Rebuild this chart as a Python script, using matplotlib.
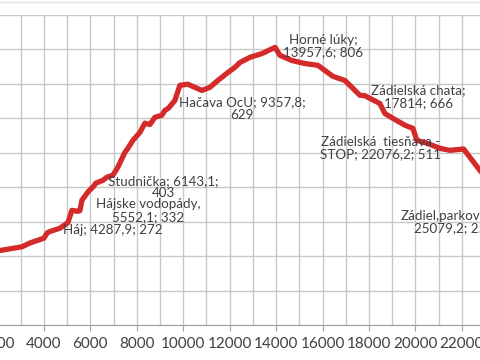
import matplotlib
matplotlib.use("Agg")
import matplotlib.pyplot as plt
from matplotlib.ticker import MultipleLocator
from matplotlib.lines import Line2D

plt.rcParams['font.family'] = ['Lato', 'DejaVu Sans']

# elevation profile: distance (m), elevation (m)
dist = [2000, 3053, 3397, 4000, 4150, 4287.9, 4689, 5034, 5206, 5464, 5552.1,
        5637, 5895, 6143.1, 6239, 6541, 6713, 6972, 7187, 7488, 7618, 7833,
        8134, 8350, 8565, 8780, 9082, 9211, 9357.8, 9642, 9857, 10202, 10503,
        10805, 11149, 11494, 11924, 12226, 12441, 12872, 13388, 13957.6, 14164,
        14680, 15240, 15800, 16102, 16446, 16963, 17264, 17609, 17814, 18470,
        18686, 19030, 19547, 19892, 20064, 20494, 21054, 21485, 22076.2, 22347,
        22777, 25079.2]
elev = [215, 227, 238, 252, 268, 272, 281, 297, 333, 330, 332,
        362, 386, 403, 412, 420, 429, 435, 458, 501, 513, 536,
        559, 586, 582, 603, 609, 623, 629, 652, 696, 699, 690,
        681, 690, 710, 733, 748, 762, 777, 788, 806, 783,
        768, 759, 754, 739, 722, 710, 690, 667, 666, 643,
        614, 600, 580, 571, 536, 528, 513, 507, 511, 487,
        449, 250]

# named stops on the route
stop_dist = [4287.9, 5552.1, 6143.1, 9357.8, 13957.6, 17814, 22076.2, 25079.2]
stop_elev = [272, 332, 403, 629, 806, 666, 511, 250]
stop_text = ["Háj; 4287,9; 272",
             "Hájske vodopády,\n5552,1; 332",
             "Studnička; 6143,1;\n403",
             "Hačava OcU; 9357,8;\n629",
             "Horné lúky;\n13957,6; 806",
             "Zádielská chata;\n17814; 666",
             "Zádielská  tiesňava -\nSTOP; 22076,2; 511",
             "Zádiel,parkovisko;\n25079,2; 250"]
# label offsets in pixels from the point
off = [(62, 1), (68, 0), (70, -1), (74, 0), (48, 1), (54, -1), (-83, 1), (-79, 17)]

fig = plt.figure(figsize=(4.8, 3.6), dpi=100)
ax = fig.add_axes([-49 / 480, 35 / 360, 603.7 / 480, 310 / 360])

ax.plot(dist, elev, color="#d42a2a", lw=3.8, solid_joinstyle="round",
        solid_capstyle="round", zorder=3)

for x, y, t, o in zip(stop_dist, stop_elev, stop_text, off):
    ax.annotate(t, (x, y), xytext=o, textcoords="offset pixels",
                ha="center", va="center", multialignment="center",
                fontsize=9.6, color="#404040", linespacing=1.05, zorder=4)

ax.set_xlim(0, 26000)
ax.set_ylim(0, 900)
ax.xaxis.set_major_locator(MultipleLocator(2000))
ax.xaxis.set_minor_locator(MultipleLocator(1000))
ax.yaxis.set_major_locator(MultipleLocator(100))
ax.grid(which="both", color="#c8c8c8", lw=1)
ax.set_axisbelow(True)
for s in ["top", "right"]:
    ax.spines[s].set_visible(False)
ax.spines["bottom"].set_color("#a0a0a0")
ax.spines["left"].set_color("#a0a0a0")
ax.tick_params(axis="x", which="major", length=4, color="#a0a0a0",
               labelsize=11, labelcolor="#404040", pad=5)
ax.tick_params(axis="x", which="minor", length=0)
ax.tick_params(axis="y", labelleft=False, length=0)

fig.add_artist(Line2D([0, 1], [1 - 1.5 / 360, 1 - 1.5 / 360],
                      color="#e0e0e0", lw=1, transform=fig.transFigure))

fig.savefig("out.png", dpi=100)
